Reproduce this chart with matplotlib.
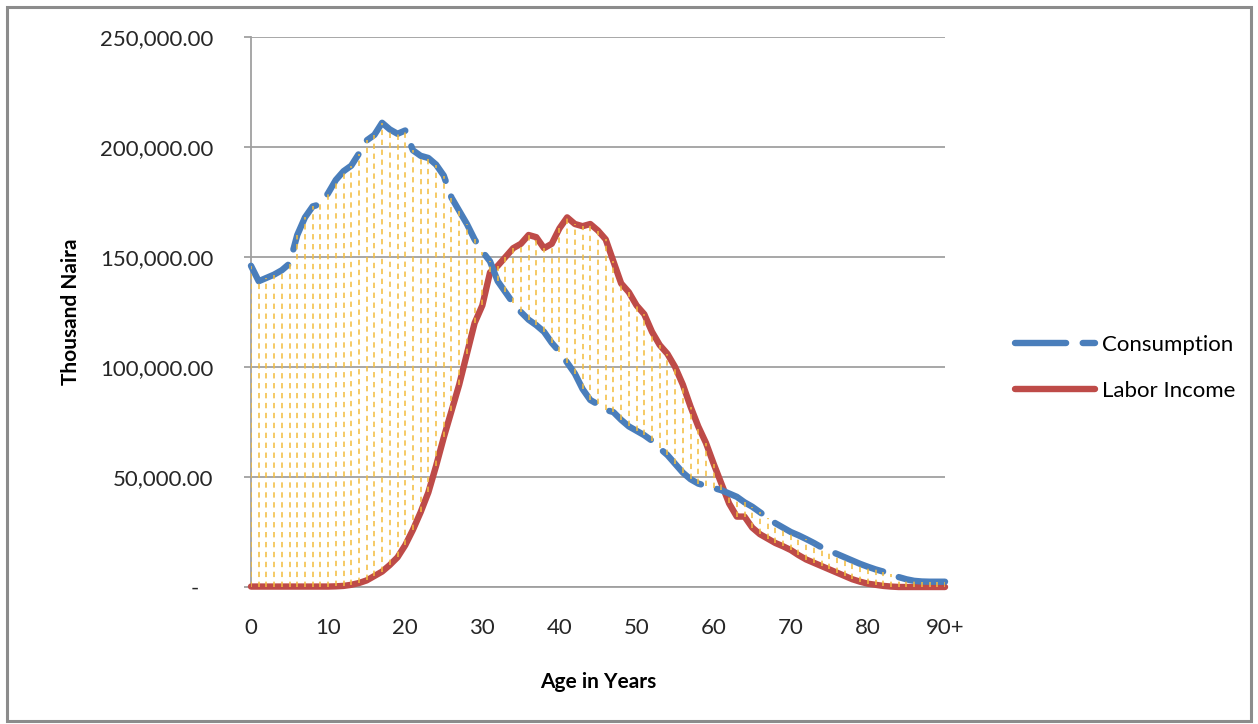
import numpy as np
import matplotlib.pyplot as plt
from matplotlib.patches import Rectangle
from matplotlib.transforms import ScaledTranslation

# ages 0 .. 90+ (one point per year)
ages = np.arange(0, 91)

# consumption, thousand naira
consumption = np.array([
    146, 139, 140.5, 142, 144, 147, 160, 168, 173, 174,
    179, 185, 189, 191.5, 197, 203, 205.5, 211, 208, 206,
    207.5, 198.5, 196, 195, 192, 187, 177, 171, 165, 158,
    152.5, 148, 139, 134, 129, 125, 121.5, 119, 116, 111,
    107, 102, 97, 90, 85, 83, 80.5, 79.5, 76, 73,
    71, 69, 66.5, 63, 60, 56, 52, 49, 47, 46,
    45, 44, 42.5, 41, 38.5, 36.5, 34, 31.5, 29, 27,
    25, 23.5, 21.8, 20, 18, 16.5, 15, 13.5, 12, 10.5,
    9.2, 8, 7, 6, 4.5, 3.5, 2.8, 2.5, 2.4, 2.4,
    2.4]) * 1000

# labor income, thousand naira
labor_income = np.array([
    0.2, 0.2, 0.2, 0.2, 0.2, 0.2, 0.2, 0.2, 0.2, 0.2,
    0.2, 0.3, 0.5, 1, 1.8, 3, 5, 7, 10, 13.5,
    19, 26, 34, 43, 55, 68, 80, 92, 106, 120,
    128, 143, 146, 150, 154, 156, 160, 159, 154, 156,
    163, 168, 165, 164, 165, 162, 158, 148, 138, 134,
    128, 124, 116, 110, 106, 100, 92, 82, 73, 65.5,
    56, 47, 38, 32, 32, 27, 24, 22, 20, 18.5,
    16.8, 14.5, 12.5, 11, 9.5, 8, 6.5, 5, 3.5, 2.4,
    1.5, 1, 0.5, 0.2, 0, 0, 0, 0, 0, 0,
    0]) * 1000

xticks = [0, 10, 20, 30, 40, 50, 60, 70, 80, 90]
xticklabels = ['0', '10', '20', '30', '40', '50', '60', '70', '80', '90+']
yticks = [0, 50000, 100000, 150000, 200000, 250000]
yticklabels = ['-', '50,000.00', '100,000.00', '150,000.00', '200,000.00', '250,000.00']

plt.rcParams['font.family'] = ['Lato', 'DejaVu Sans']

W, H = 1258, 724
fig = plt.figure(figsize=(W / 100, H / 100), dpi=100)
ax = fig.add_axes([251 / W, 137 / H, (945 - 251) / W, 550 / H])

blue = '#4A7EBB'
red = '#BE4B48'
gold = '#F3BC3C'

# high-low drop lines between the two series
ax.vlines(ages, np.minimum(consumption, labor_income), np.maximum(consumption, labor_income),
          colors=gold, linestyles=(0, (3.5, 3)), linewidth=1.1, zorder=4)

ax.plot(ages, labor_income, color=red, linewidth=4.6, solid_capstyle='round',
        solid_joinstyle='round', label='Labor Income', zorder=3, clip_on=False)
ax.plot(ages, consumption, color=blue, linewidth=4.6, linestyle=(0, (8, 2.6)),
        dash_capstyle='round', dash_joinstyle='round', label='Consumption', zorder=3,
        clip_on=False)

ax.set_xlim(0, 90)
ax.set_ylim(0, 250000)
ax.set_yticks(yticks)
ax.set_yticklabels(yticklabels)
ax.set_xticks(xticks)
ax.set_xticklabels(xticklabels)
ax.yaxis.grid(True, color='#A0A0A0', linewidth=1.3)
ax.set_axisbelow(True)

for s in ['top', 'right']:
    ax.spines[s].set_visible(False)
ax.spines['left'].set_color('#A0A0A0')
ax.spines['bottom'].set_color('#A0A0A0')
ax.spines['left'].set_linewidth(1.3)
ax.spines['bottom'].set_linewidth(1.3)
ax.tick_params(axis='y', length=5, width=1.3, color='#A0A0A0', pad=22,
               labelsize=16, labelcolor='#262626')
ax.tick_params(axis='x', length=0, pad=22, labelsize=16, labelcolor='#262626')

# the zero label sits a little to the left in the original
zero_lbl = ax.get_yticklabels()[0]
zero_lbl.set_transform(zero_lbl.get_transform() + ScaledTranslation(-0.15, 0, fig.dpi_scale_trans))

ax.set_ylabel('Thousand Naira', fontsize=15, fontweight='bold', labelpad=14)
ax.set_xlabel('Age in Years', fontsize=15, fontweight='bold', labelpad=25)

handles, labels = ax.get_legend_handles_labels()
leg = fig.legend(handles[::-1], labels[::-1], loc='center left',
                 bbox_to_anchor=(995 / W, 1 - 368 / H), frameon=False, fontsize=16,
                 handlelength=3.6, labelspacing=1.15, handletextpad=0.3)

# chart area border
fig.patches.append(Rectangle((7 / W, 3 / H), (W - 14) / W, (H - 10) / H,
                             transform=fig.transFigure, fill=False,
                             edgecolor='#8C8C8C', linewidth=2.2))

fig.savefig('out.png', dpi=100)
